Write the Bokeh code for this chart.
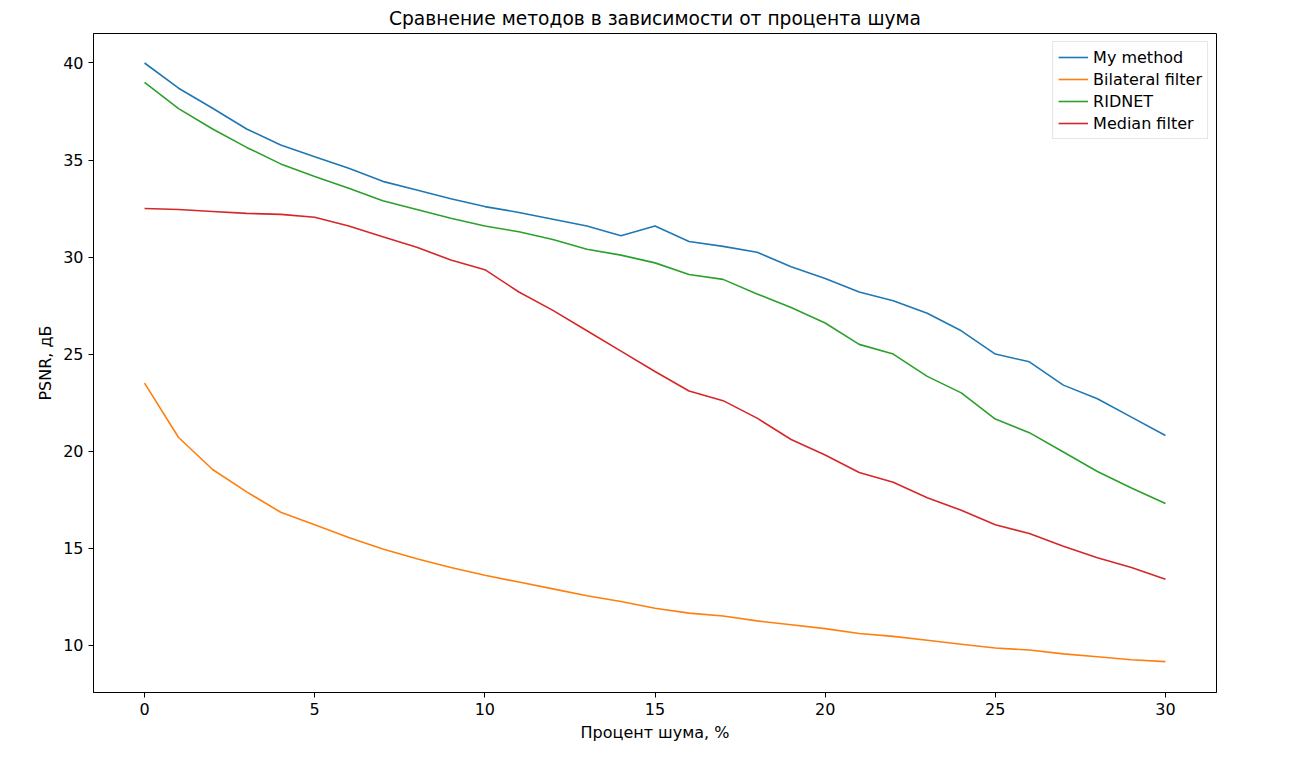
from bokeh.plotting import figure
from bokeh.models import Range1d, FixedTicker
from bokeh.embed import file_html
from bokeh.resources import INLINE

noise = list(range(31))
my_method = [40.0, 38.7, 37.67, 36.6, 35.77, 35.17, 34.57, 33.9, 33.45, 33.0, 32.6,
             32.3, 31.95, 31.6, 31.1, 31.6, 30.8, 30.55, 30.25, 29.5, 28.9,
             28.2, 27.75, 27.1, 26.2, 25.0, 24.6, 23.4, 22.7, 21.75, 20.8]
bilateral = [23.5, 20.7, 19.05, 17.9, 16.85, 16.2, 15.55, 14.95, 14.45, 14.0, 13.6,
             13.25, 12.9, 12.55, 12.25, 11.9, 11.65, 11.5, 11.25, 11.05, 10.85,
             10.6, 10.45, 10.25, 10.05, 9.85, 9.75, 9.55, 9.4, 9.25, 9.15]
ridnet = [39.0, 37.65, 36.6, 35.65, 34.8, 34.15, 33.55, 32.9, 32.45, 32.0, 31.6,
          31.3, 30.9, 30.4, 30.1, 29.7, 29.1, 28.85, 28.1, 27.4, 26.6,
          25.5, 25.0, 23.85, 23.0, 21.65, 20.95, 19.95, 18.95, 18.1, 17.3]
median = [32.5, 32.45, 32.35, 32.25, 32.2, 32.05, 31.6, 31.05, 30.5, 29.85, 29.35,
          28.2, 27.25, 26.2, 25.15, 24.1, 23.1, 22.6, 21.7, 20.6, 19.8,
          18.9, 18.4, 17.6, 16.95, 16.2, 15.75, 15.1, 14.5, 14.0, 13.4]

series = [("My method", my_method, "#1f77b4"),
          ("Bilateral filter", bilateral, "#ff7f0e"),
          ("RIDNET", ridnet, "#2ca02c"),
          ("Median filter", median, "#d62728")]

p = figure(width=1276, height=745, output_backend="svg", toolbar_location=None,
           title="Сравнение методов в зависимости от процента шума",
           x_range=Range1d(-1.5, 31.5), y_range=Range1d(7.56, 41.52),
           x_axis_label="Процент шума, %", y_axis_label="PSNR, дБ",
           min_border_left=93, min_border_right=60, min_border_bottom=53, min_border_top=32)

for name, vals, col in series:
    p.line(noise, vals, line_width=1.6, color=col, legend_label=name)

p.title.align = "center"
p.title.text_font = "DejaVu Sans"
p.title.text_font_size = "14pt"
p.title.text_font_style = "normal"
p.title.text_color = "black"
p.xgrid.visible = False
p.ygrid.visible = False
p.outline_line_color = "black"
p.xaxis.ticker = FixedTicker(ticks=[0, 5, 10, 15, 20, 25, 30])
p.yaxis.ticker = FixedTicker(ticks=[10, 15, 20, 25, 30, 35, 40])
for ax in (p.xaxis[0], p.yaxis[0]):
    ax.major_label_text_font = "DejaVu Sans"
    ax.major_label_text_font_size = "12pt"
    ax.major_label_text_color = "black"
    ax.axis_label_text_font = "DejaVu Sans"
    ax.axis_label_text_font_size = "12pt"
    ax.axis_label_text_font_style = "normal"
    ax.axis_label_text_color = "black"
    ax.minor_tick_line_color = None
    ax.major_tick_out = 5
    ax.major_tick_in = 0
    ax.axis_line_color = "black"

p.legend.location = "top_right"
p.legend.label_text_font = "DejaVu Sans"
p.legend.label_text_font_size = "12pt"
p.legend.label_text_color = "black"
p.legend.border_line_color = "#cccccc"
p.legend.glyph_width = 30
p.legend.spacing = 2
p.legend.padding = 5
p.legend.margin = 8

open("out.html", "w").write(file_html(p, INLINE))
